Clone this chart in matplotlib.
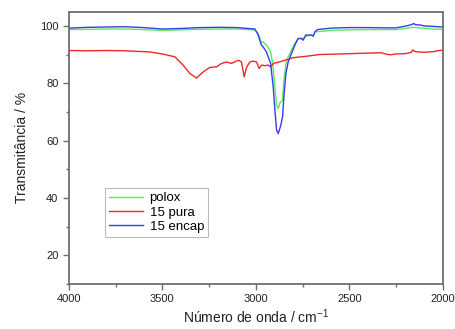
import matplotlib
matplotlib.use("Agg")
import matplotlib.pyplot as plt
from matplotlib.ticker import MultipleLocator

plt.rcParams['font.family'] = ['Liberation Sans', 'DejaVu Sans']

# Wavenumber (cm-1) and transmittance (%)
wn_polox = [4000, 3900, 3800, 3700, 3600, 3500, 3400, 3300, 3200, 3100, 3005, 2988, 2979, 2970,
            2961, 2943, 2930, 2921, 2910, 2898, 2889, 2880, 2871, 2857, 2850, 2839, 2827, 2809,
            2791, 2774, 2756, 2747, 2733, 2702, 2693, 2684, 2600, 2500, 2400, 2300, 2250, 2200,
            2160, 2100, 2050, 2000]
t_polox = [98.8, 98.9, 99.0, 99.0, 98.8, 98.5, 98.7, 98.9, 99.0, 99.0, 98.7, 97.5, 96.0, 94.2,
           94.5, 93.4, 92.0, 91.0, 87.0, 78.8, 72.4, 71.2, 73.2, 74.1, 81.1, 87.0, 89.3, 91.6,
           94.0, 95.5, 95.8, 95.5, 96.5, 96.8, 96.6, 98.0, 98.5, 98.7, 98.8, 98.8, 98.8, 99.2,
           99.6, 99.3, 99.0, 98.9]

wn_pura = [4000, 3900, 3800, 3700, 3600, 3567, 3500, 3433, 3389, 3353, 3317, 3282, 3246, 3210,
           3183, 3157, 3130, 3094, 3077, 3062, 3050, 3032, 3015, 2996, 2982, 2970, 2950, 2934,
           2921, 2905, 2880, 2854, 2800, 2729, 2658, 2600, 2500, 2400, 2330, 2300, 2280, 2250,
           2200, 2170, 2160, 2150, 2130, 2100, 2050, 2020, 2000]
t_pura = [91.5, 91.4, 91.5, 91.4, 91.1, 91.0, 90.3, 89.3, 86.4, 83.5, 81.9, 84.0, 85.6, 85.8,
          87.0, 87.5, 87.0, 88.1, 87.6, 82.3, 85.5, 87.5, 87.8, 87.5, 85.2, 86.4, 86.2, 86.4,
          85.8, 87.0, 87.4, 87.9, 89.0, 89.5, 90.1, 90.2, 90.4, 90.6, 90.7, 90.2, 90.0, 90.3,
          90.4, 90.8, 91.7, 91.2, 91.0, 90.9, 91.1, 91.5, 91.6]

wn_encap = [4000, 3900, 3800, 3700, 3600, 3500, 3400, 3300, 3200, 3100, 3005, 2988, 2979, 2970,
            2961, 2943, 2921, 2907, 2898, 2889, 2880, 2868, 2857, 2850, 2839, 2827, 2809, 2791,
            2774, 2756, 2747, 2733, 2702, 2693, 2684, 2670, 2600, 2500, 2400, 2300, 2250, 2200,
            2170, 2155, 2145, 2120, 2100, 2050, 2000]
t_encap = [99.3, 99.6, 99.7, 99.8, 99.5, 99.0, 99.2, 99.5, 99.6, 99.5, 99.0, 97.0, 95.1, 93.4,
           92.8, 91.0, 87.0, 78.8, 70.7, 63.7, 62.5, 65.0, 68.3, 75.3, 83.5, 87.5, 90.5, 93.4,
           95.7, 95.7, 95.1, 96.9, 96.9, 96.5, 98.0, 98.8, 99.3, 99.5, 99.5, 99.4, 99.4, 100.0,
           100.5, 100.9, 100.5, 100.4, 100.1, 99.9, 99.7]

series_labels = ["polox", "15 pura", "15 encap"]
series_colors = ["#55ee55", "#f02828", "#3a3aee"]

fig = plt.figure(figsize=(4.56, 3.29), dpi=100)
ax = fig.add_axes([0.151, 0.137, 0.820, 0.827])

ax.plot(wn_polox, t_polox, color=series_colors[0], lw=1.0, label=series_labels[0])
ax.plot(wn_pura, t_pura, color=series_colors[1], lw=1.0, label=series_labels[1])
ax.plot(wn_encap, t_encap, color=series_colors[2], lw=1.0, label=series_labels[2])

ax.set_xlim(4000, 2000)
ax.set_ylim(10, 105)
ax.xaxis.set_major_locator(MultipleLocator(500))
ax.xaxis.set_minor_locator(MultipleLocator(250))
ax.yaxis.set_minor_locator(MultipleLocator(10))
ax.set_yticks([20, 40, 60, 80, 100])

spine_col = "#6e6e6e"
for s in ax.spines.values():
    s.set_color(spine_col)
    s.set_linewidth(1.3)
ax.tick_params(which='both', direction='out', color=spine_col, top=False, right=False,
               labelsize=8, labelcolor="#222222")
ax.tick_params(which='major', length=4, width=1.0)
ax.tick_params(which='minor', length=2.5, width=1.0)

ax.set_xlabel("Número de onda / cm$^{\\mathregular{-1}}$", fontsize=10, color="#222222", labelpad=2)
ax.set_ylabel("Transmitância / %", fontsize=10, color="#222222", labelpad=8)

leg = ax.legend(loc='lower left', bbox_to_anchor=(0.096, 0.173), borderaxespad=0,
                fontsize=9.5, frameon=True,
                fancybox=False, edgecolor="#aaaaaa", handlelength=2.6, borderpad=0.3,
                labelspacing=0.15, handletextpad=0.5)
leg.get_frame().set_linewidth(0.8)

fig.savefig("out.png", dpi=100)
